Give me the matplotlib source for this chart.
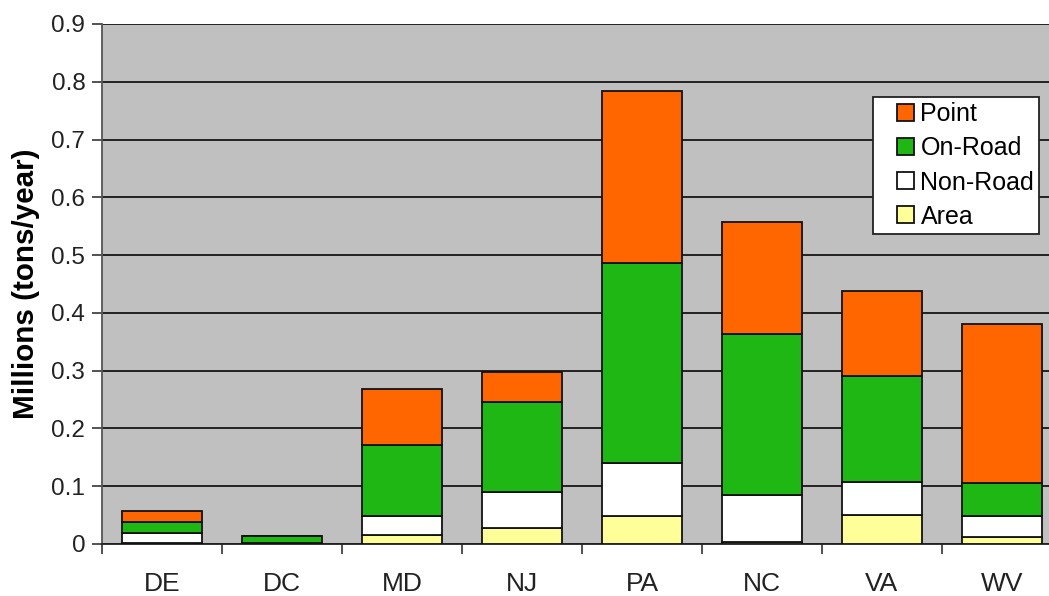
import numpy as np
import matplotlib
matplotlib.use("Agg")
import matplotlib.pyplot as plt
import matplotlib.patches as mpatches
from matplotlib.legend_handler import HandlerPatch

plt.rcParams['font.family'] = ['Liberation Sans', 'DejaVu Sans']

states = ["DE", "DC", "MD", "NJ", "PA", "NC", "VA", "WV"]
area = [0.002, 0.0005, 0.015, 0.027, 0.048, 0.003, 0.051, 0.0115]
non_road = [0.0165, 0.002, 0.033, 0.0635, 0.093, 0.082, 0.057, 0.0365]
on_road = [0.020, 0.011, 0.123, 0.156, 0.346, 0.278, 0.183, 0.057]
point = [0.018, 0.001, 0.097, 0.052, 0.297, 0.195, 0.147, 0.276]

series = [("Area", area, "#FFFF99"),
          ("Non-Road", non_road, "#FFFFFF"),
          ("On-Road", on_road, "#1FB714"),
          ("Point", point, "#FF6600")]

fig = plt.figure(figsize=(10.49, 5.96), dpi=100)
ax = fig.add_axes([102/1049, 52/596, 960/1049, 520/596])
ax.set_facecolor("#C0C0C0")

x = np.arange(len(states))
bottom = np.zeros(len(states))
colors = {}
for name, vals, col in series:
    vals = np.array(vals)
    ax.bar(x, vals, 0.667, bottom=bottom, color=col, edgecolor="#111111",
           linewidth=1.3, zorder=3)
    colors[name] = col
    bottom += vals

ax.set_xlim(-0.5, 7.5)
ax.set_ylim(0, 0.9)
ax.set_yticks(np.arange(0, 0.91, 0.1))
ax.set_yticklabels(["0"] + [f"{v:.1f}" for v in np.arange(0.1, 0.91, 0.1)])
ax.yaxis.grid(True, color="#222222", linewidth=1.4, zorder=1)
ax.set_axisbelow(True)

ax.set_xticks(x)
ax.set_xticklabels(states)
ax.set_xticks(np.arange(-0.5, 7.6, 1), minor=True)
ax.tick_params(axis="x", which="major", length=0, pad=20, labelsize=19, colors="#222222")
ax.tick_params(axis="x", which="minor", length=7, width=1.3, color="#444444")
ax.tick_params(axis="y", length=7, width=1.3, color="#444444", labelsize=17.5,
               labelcolor="#222222", pad=5)

for s in ["top", "right"]:
    ax.spines[s].set_visible(False)
ax.spines["left"].set_color("#555555")
ax.spines["left"].set_linewidth(1.3)
ax.spines["bottom"].set_color("#222222")
ax.spines["bottom"].set_linewidth(1.3)

ax.set_ylabel("Millions (tons/year)", fontsize=21.3, fontweight="bold")
ax.yaxis.set_label_coords((40 - 102) / 960, 0.5)


def square(legend, orig_handle, xdescent, ydescent, width, height, fontsize):
    return mpatches.Rectangle((width - height - xdescent, -ydescent), height, height)


order = ["Point", "On-Road", "Non-Road", "Area"]
proxies = [mpatches.Patch(facecolor=colors[n], edgecolor="#111111", linewidth=1.3)
           for n in order]
leg = ax.legend(proxies, order, loc="upper left",
                bbox_to_anchor=((873 - 102) / 960, (544 - 97) / 520),
                fontsize=18, frameon=True, fancybox=False, framealpha=1,
                edgecolor="#222222", handlelength=1.45, handleheight=0.67,
                handletextpad=0.25, labelspacing=0.41, borderpad=0.2,
                borderaxespad=0,
                handler_map={mpatches.Patch: HandlerPatch(patch_func=square)})
leg.get_frame().set_linewidth(1.3)
leg.set_zorder(5)

fig.savefig("out.png", dpi=100)
